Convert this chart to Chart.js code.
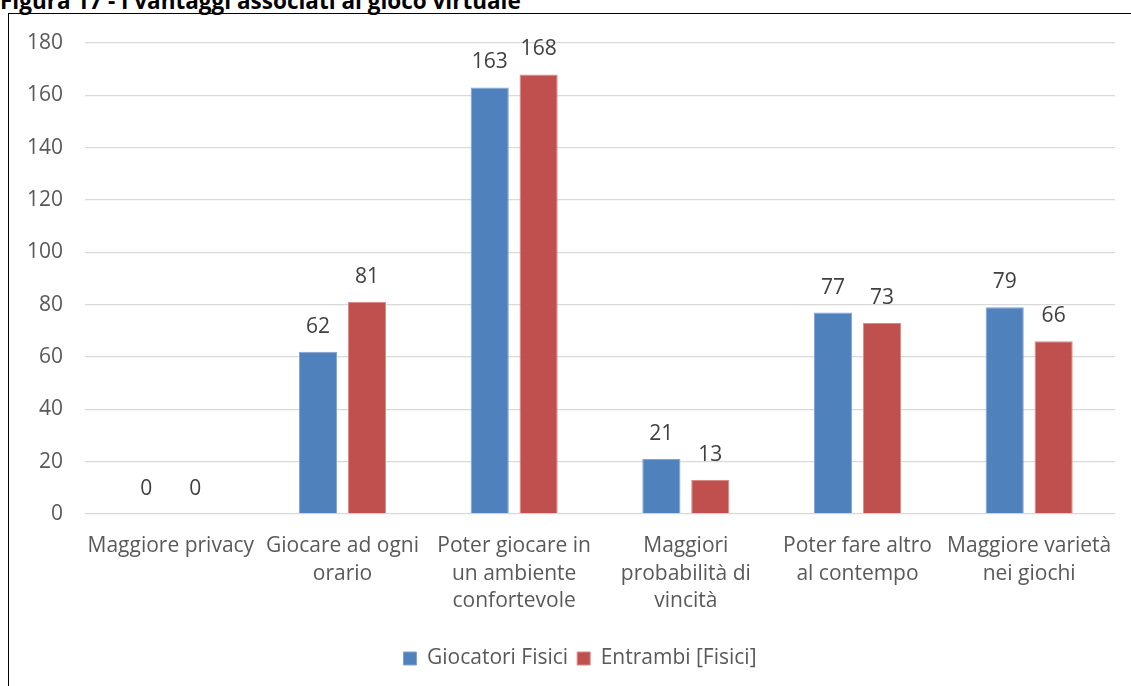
<!DOCTYPE html>
<html>
<head>
<meta charset="utf-8">
<script src="https://cdn.jsdelivr.net/npm/chart.js@4"></script>
<style>
  html, body { margin: 0; padding: 0; width: 1131px; height: 686px; overflow: hidden; background: #fff; }
  #title { position: absolute; left: 0; top: -10px; font-family: "Open Sans", "Liberation Sans", sans-serif; font-weight: bold; font-size: 22.5px; line-height: 22px; color: #000; white-space: nowrap; }
  #frame { position: absolute; left: 8px; top: 13px; width: 1160px; height: 700px; border: 1.5px solid #000; box-sizing: border-box; }
  #wrap { position: absolute; left: 9px; top: 14px; width: 1142px; height: 672px; }
</style>
</head>
<body>
<div id="title">Figura 17 - I vantaggi associati al gioco virtuale</div>
<div id="frame"></div>
<div id="wrap"><canvas id="chart"></canvas></div>
<script>
// categorie e valori
const categories = [
    ['Maggiore privacy'],
    ['Giocare ad ogni', 'orario'],
    ['Poter giocare in', 'un ambiente', 'confortevole'],
    ['Maggiori', 'probabilità di', 'vincità'],
    ['Poter fare altro', 'al contempo'],
    ['Maggiore varietà', 'nei giochi']
];
const giocatoriFisici = [0, 62, 163, 21, 77, 79];
const entrambiFisici = [0, 81, 168, 13, 73, 66];
const yTicks = [0, 20, 40, 60, 80, 100, 120, 140, 160, 180];

const FONT = '"Open Sans", "Liberation Sans", sans-serif';
const FSIZE = 21;

// etichette sopra le barre
const valueLabels = {
    id: 'valueLabels',
    afterDatasetsDraw(chart) {
        const ctx = chart.ctx;
        ctx.save();
        ctx.font = FSIZE + 'px ' + FONT;
        ctx.fillStyle = '#404040';
        ctx.textAlign = 'center';
        ctx.textBaseline = 'alphabetic';
        chart.data.datasets.forEach((ds, i) => {
            chart.getDatasetMeta(i).data.forEach((bar, j) => {
                ctx.fillText(ds.data[j], bar.x, bar.y - 19);
            });
        });
        ctx.restore();
    }
};

// la legenda è centrata sull'intero riquadro, non sull'area del grafico
const shiftLegend = {
    id: 'shiftLegend',
    afterLayout(chart) {
        chart.legend.left += 18;
        chart.legend.right += 18;
    }
};

new Chart(document.getElementById('chart'), {
    type: 'bar',
    data: {
        labels: categories,
        datasets: [{
            label: 'Giocatori Fisici',
            data: giocatoriFisici,
            backgroundColor: '#4f81bd',
            borderColor: '#7fa3d3',
            borderWidth: 1
        }, {
            label: 'Entrambi [Fisici]',
            data: entrambiFisici,
            backgroundColor: '#c0504d',
            borderColor: '#d88a88',
            borderWidth: 1
        }]
    },
    options: {
        responsive: true,
        maintainAspectRatio: false,
        animation: false,
        layout: { padding: { top: 29, right: 36, bottom: 7, left: 0 } },
        datasets: { bar: { categoryPercentage: 0.57, barPercentage: 0.78 } },
        scales: {
            x: {
                grid: { display: false },
                border: { display: false },
                ticks: {
                    color: '#595959',
                    font: { family: FONT, size: FSIZE, lineHeight: 1.32 },
                    padding: 10,
                    maxRotation: 0,
                    autoSkip: false
                },
                afterFit(scale) { scale.height = 125; }
            },
            y: {
                min: 0,
                max: 180,
                afterBuildTicks(scale) { scale.ticks = yTicks.map(v => ({ value: v })); },
                grid: { color: '#d9d9d9', lineWidth: 1.3, drawTicks: false },
                border: { display: false },
                ticks: {
                    color: '#595959',
                    font: { family: FONT, size: FSIZE },
                    padding: 22
                },
                afterFit(scale) {
                    scale.width = 76;
                    scale.paddingTop = 0;
                    scale.paddingBottom = 0;
                }
            }
        },
        plugins: {
            legend: {
                position: 'bottom',
                labels: {
                    color: '#595959',
                    font: { family: FONT, size: FSIZE },
                    boxWidth: 13,
                    boxHeight: 13,
                    padding: 9
                }
            },
            tooltip: { enabled: false }
        }
    },
    plugins: [valueLabels, shiftLegend]
});
</script>
</body>
</html>
